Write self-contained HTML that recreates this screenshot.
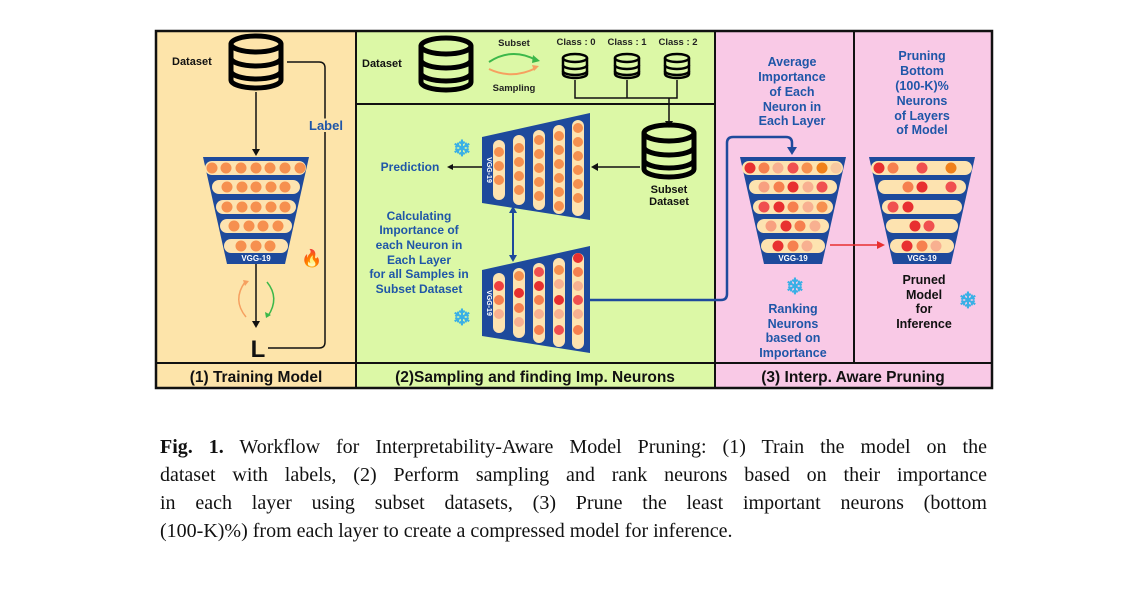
<!DOCTYPE html>
<html><head><meta charset="utf-8"><style>
body{margin:0;background:#fff;width:1147px;height:595px;overflow:hidden;position:relative}
svg{position:absolute;left:0;top:0}
.cap{position:absolute;left:160px;width:827px;font-family:"Liberation Serif",serif;font-size:20px;color:#111;text-align:justify;text-align-last:justify;white-space:nowrap;line-height:28px}
</style></head><body>
<svg width="1147" height="400" viewBox="0 0 1147 400" font-family="Liberation Sans, sans-serif" font-weight="bold">
<defs>
<g id="cyl"><path d="M-25,-18 v36 a25,8 0 0 0 50,0 v-36" fill="none" stroke="#000" stroke-width="5"/><ellipse cx="0" cy="-18" rx="25" ry="8" fill="none" stroke="#000" stroke-width="5"/><path d="M-25,-4 a25,8 0 0 0 50,0 M-25,9 a25,8 0 0 0 50,0" fill="none" stroke="#000" stroke-width="5"/></g>
<g id="cyls"><path d="M-12,-8 v16 a12,4 0 0 0 24,0 v-16" fill="none" stroke="#000" stroke-width="2.5"/><ellipse cx="0" cy="-8" rx="12" ry="4" fill="none" stroke="#000" stroke-width="2.5"/><path d="M-12,-1 a12,4 0 0 0 24,0 M-12,5 a12,4 0 0 0 24,0" fill="none" stroke="#000" stroke-width="2.5"/></g>
<g id="fun"><polygon points="203,157 309,157 285,264 227,264" fill="#1e4a9c"/>
<rect x="205" y="161" width="101" height="14" rx="7" fill="#fde3b0"/>
<rect x="212" y="180" width="88" height="14" rx="7" fill="#fde3b0"/>
<rect x="216" y="200" width="80" height="14" rx="7" fill="#fde3b0"/>
<rect x="220" y="219" width="72" height="14" rx="7" fill="#fde3b0"/>
<rect x="224" y="239" width="64" height="14" rx="7" fill="#fde3b0"/>
<text x="256" y="261" fill="#fff" font-size="8" text-anchor="middle">VGG-19</text></g>
<g id="hfun"><polygon points="482,137 590,113 590,220 482,203" fill="#1e4a9c"/>
<rect x="493" y="140" width="12" height="60" rx="6" fill="#fde3b0"/>
<rect x="513" y="135" width="12" height="70" rx="6" fill="#fde3b0"/>
<rect x="533" y="130" width="12" height="80" rx="6" fill="#fde3b0"/>
<rect x="553" y="125" width="12" height="89" rx="6" fill="#fde3b0"/>
<rect x="572" y="120" width="12" height="96" rx="6" fill="#fde3b0"/>
<text x="0" y="0" fill="#fff" font-size="7" text-anchor="middle" transform="translate(487,170) rotate(90)">VGG-19</text></g>
</defs>
<rect x="156" y="31" width="200" height="332" fill="#fde4aa"/>
<rect x="356" y="31" width="359" height="332" fill="#dcf8a6"/>
<rect x="715" y="31" width="277" height="332" fill="#f9c9e6"/>
<rect x="156" y="363" width="200" height="25" fill="#fde4aa"/>
<rect x="356" y="363" width="359" height="25" fill="#dcf8a6"/>
<rect x="715" y="363" width="277" height="25" fill="#f9c9e6"/>
<rect x="156" y="31" width="836" height="357" fill="none" stroke="#111" stroke-width="2.5"/>
<path d="M356,31 V388 M715,31 V388 M156,363 H992 M356,104 H715 M854,31 V363" stroke="#111" stroke-width="2" fill="none"/>
<g font-size="15.5" fill="#111" text-anchor="middle"><text x="256" y="382">(1) Training Model</text><text x="535" y="382">(2)Sampling and finding Imp. Neurons</text><text x="853" y="382">(3) Interp. Aware Pruning</text></g>
<use href="#cyl" x="256" y="62"/>
<text x="172" y="65" font-size="11" fill="#111">Dataset</text>
<path d="M256,92 V150" stroke="#111" stroke-width="1.5"/><polygon points="252,149 260,149 256,156" fill="#111"/>
<path d="M287,62 H319 Q325,62 325,68 V342 Q325,348 319,348 H268" stroke="#111" stroke-width="1.5" fill="none"/>
<text x="326" y="130" font-size="13" fill="#1f56a8" text-anchor="middle" style="paint-order:stroke" stroke="#fde4aa" stroke-width="4">Label</text>
<use href="#fun"/>
<g fill="#f6904f"><circle cx="212" cy="168" r="5.5"/><circle cx="226" cy="168" r="5.5"/><circle cx="241" cy="168" r="5.5"/><circle cx="256" cy="168" r="5.5"/><circle cx="270" cy="168" r="5.5"/><circle cx="285" cy="168" r="5.5"/><circle cx="300" cy="168" r="5.5"/>
<circle cx="227" cy="187" r="5.5"/><circle cx="242" cy="187" r="5.5"/><circle cx="256" cy="187" r="5.5"/><circle cx="271" cy="187" r="5.5"/><circle cx="285" cy="187" r="5.5"/>
<circle cx="227" cy="207" r="5.5"/><circle cx="242" cy="207" r="5.5"/><circle cx="256" cy="207" r="5.5"/><circle cx="271" cy="207" r="5.5"/><circle cx="285" cy="207" r="5.5"/>
<circle cx="234" cy="226" r="5.5"/><circle cx="249" cy="226" r="5.5"/><circle cx="263" cy="226" r="5.5"/><circle cx="278" cy="226" r="5.5"/>
<circle cx="241" cy="246" r="5.5"/><circle cx="256" cy="246" r="5.5"/><circle cx="270" cy="246" r="5.5"/></g>
<text x="301" y="264" font-size="17" fill="#f0601a">🔥</text>
<path d="M256,264 V322" stroke="#111" stroke-width="1.5"/><polygon points="252,321 260,321 256,328" fill="#111"/>
<path d="M246,317 Q232,300 245,282" stroke="#f6a060" stroke-width="1.5" fill="none"/><polygon points="243,280 249,281 245,286" fill="#f6a060"/>
<path d="M267,282 Q280,298 268,316" stroke="#3cb84a" stroke-width="1.5" fill="none"/><polygon points="266,318 265,312 271,315" fill="#3cb84a"/>
<text x="258" y="357" font-size="24" fill="#111" text-anchor="middle">L</text>
<text x="362" y="67" font-size="11" fill="#111">Dataset</text>
<use href="#cyl" x="446" y="64"/>
<text x="514" y="46" font-size="9.5" fill="#222" text-anchor="middle">Subset</text>
<text x="514" y="91" font-size="9.5" fill="#222" text-anchor="middle">Sampling</text>
<path d="M489,62 Q512,47 536,60" stroke="#3cb84a" stroke-width="2" fill="none"/><polygon points="533,55 540,61 532,63" fill="#3cb84a"/>
<path d="M489,69 Q512,80 536,68" stroke="#f6a060" stroke-width="2" fill="none"/><polygon points="532,65 539,66 534,71" fill="#f6a060"/>
<g font-size="9.5" fill="#222" text-anchor="middle"><text x="576" y="45">Class : 0</text><text x="627" y="45">Class : 1</text><text x="678" y="45">Class : 2</text></g>
<use href="#cyls" x="575" y="66"/><use href="#cyls" x="627" y="66"/><use href="#cyls" x="677" y="66"/>
<path d="M575,80 V98 H677 V80 M627,80 V98 M669,98 V122" stroke="#111" stroke-width="1.5" fill="none"/><polygon points="665,121 673,121 669,128" fill="#111"/>
<use href="#cyl" x="669" y="151"/>
<text x="669" y="193" font-size="11" fill="#111" text-anchor="middle">Subset</text><text x="669" y="205" font-size="11" fill="#111" text-anchor="middle">Dataset</text>
<path d="M640,167 H597" stroke="#111" stroke-width="1.5"/><polygon points="598,163 598,171 591,167" fill="#111"/>
<use href="#hfun"/>
<g fill="#f6904f"><circle cx="499" cy="152" r="5"/><circle cx="499" cy="166" r="5"/><circle cx="499" cy="180" r="5"/><circle cx="519" cy="148" r="5"/><circle cx="519" cy="162" r="5"/><circle cx="519" cy="176" r="5"/><circle cx="519" cy="190" r="5"/>
<circle cx="539" cy="140" r="5"/><circle cx="539" cy="154" r="5"/><circle cx="539" cy="168" r="5"/><circle cx="539" cy="182" r="5"/><circle cx="539" cy="196" r="5"/>
<circle cx="559" cy="136" r="5"/><circle cx="559" cy="150" r="5"/><circle cx="559" cy="164" r="5"/><circle cx="559" cy="178" r="5"/><circle cx="559" cy="192" r="5"/><circle cx="559" cy="206" r="5"/>
<circle cx="578" cy="128" r="5"/><circle cx="578" cy="142" r="5"/><circle cx="578" cy="156" r="5"/><circle cx="578" cy="170" r="5"/><circle cx="578" cy="184" r="5"/><circle cx="578" cy="198" r="5"/></g>
<use href="#hfun" y="133"/>
<g><circle cx="499" cy="286" r="5" fill="#f04040"/><circle cx="499" cy="300" r="5" fill="#f6804f"/><circle cx="499" cy="314" r="5" fill="#f8b090"/>
<circle cx="519" cy="276" r="5" fill="#f6904f"/><circle cx="519" cy="293" r="5" fill="#e83030"/><circle cx="519" cy="308" r="5" fill="#f6804f"/><circle cx="519" cy="322" r="5" fill="#f8b090"/>
<circle cx="539" cy="272" r="5" fill="#f05050"/><circle cx="539" cy="286" r="5" fill="#e83030"/><circle cx="539" cy="300" r="5" fill="#f6804f"/><circle cx="539" cy="314" r="5" fill="#f8b090"/><circle cx="539" cy="330" r="5" fill="#f6804f"/>
<circle cx="559" cy="270" r="5" fill="#f6904f"/><circle cx="559" cy="284" r="5" fill="#f8b090"/><circle cx="559" cy="300" r="5" fill="#e83030"/><circle cx="559" cy="314" r="5" fill="#f8b090"/><circle cx="559" cy="330" r="5" fill="#f05050"/>
<circle cx="578" cy="258" r="5" fill="#e83030"/><circle cx="578" cy="272" r="5" fill="#f6804f"/><circle cx="578" cy="286" r="5" fill="#f8b090"/><circle cx="578" cy="300" r="5" fill="#f05050"/><circle cx="578" cy="314" r="5" fill="#f8b090"/><circle cx="578" cy="330" r="5" fill="#f6804f"/></g>
<g font-size="12" fill="#1f56a8" text-anchor="middle"><text x="410" y="171">Prediction</text>
<text x="419" y="220">Calculating</text><text x="419" y="234">Importance of</text><text x="419" y="249">each Neuron in</text><text x="419" y="264">Each Layer</text><text x="419" y="278">for all Samples in</text><text x="419" y="293">Subset Dataset</text></g>
<path d="M482,167 H452" stroke="#111" stroke-width="1.5"/><polygon points="453,164 453,170 447,167" fill="#111"/>
<path d="M513,212 V256" stroke="#1e4a9c" stroke-width="2"/><polygon points="509,213 517,213 513,206" fill="#1e4a9c"/><polygon points="509,255 517,255 513,262" fill="#1e4a9c"/>
<g font-size="22" fill="#3ab0e6" text-anchor="middle"><text x="462" y="156">❄</text><text x="462" y="325">❄</text><text x="795" y="294">❄</text><text x="968" y="308">❄</text></g>
<path d="M590,300 H721 Q727,300 727,294 V143 Q727,137 733,137 H786 Q792,137 792,143 V148" stroke="#1e4a9c" stroke-width="2.5" fill="none"/><polygon points="787,147 797,147 792,155" fill="#1e4a9c"/>
<g font-size="12.5" fill="#1f56a8" text-anchor="middle"><text x="792" y="66">Average</text><text x="792" y="81">Importance</text><text x="792" y="96">of Each</text><text x="792" y="111">Neuron in</text><text x="792" y="125">Each Layer</text>
<text x="922" y="60">Pruning</text><text x="922" y="75">Bottom</text><text x="922" y="90">(100-K)%</text><text x="922" y="105">Neurons</text><text x="922" y="120">of Layers</text><text x="922" y="134">of Model</text>
<text x="793" y="313">Ranking</text><text x="793" y="328">Neurons</text><text x="793" y="342">based on</text><text x="793" y="357">Importance</text></g>
<g font-size="12.5" fill="#111" text-anchor="middle"><text x="924" y="284">Pruned</text><text x="924" y="299">Model</text><text x="924" y="313">for</text><text x="924" y="328">Inference</text></g>
<use href="#fun" x="537"/>
<g><circle cx="750" cy="168" r="5.5" fill="#e83030"/><circle cx="764" cy="168" r="5.5" fill="#f6804f"/><circle cx="778" cy="168" r="5.5" fill="#f8b090"/><circle cx="793" cy="168" r="5.5" fill="#f05050"/><circle cx="807" cy="168" r="5.5" fill="#f6904f"/><circle cx="822" cy="168" r="5.5" fill="#f0801a"/><circle cx="836" cy="168" r="5.5" fill="#f8c8a0"/>
<circle cx="764" cy="187" r="5.5" fill="#f8a080"/><circle cx="779" cy="187" r="5.5" fill="#f6804f"/><circle cx="793" cy="187" r="5.5" fill="#e83030"/><circle cx="808" cy="187" r="5.5" fill="#f8b090"/><circle cx="822" cy="187" r="5.5" fill="#f05050"/>
<circle cx="764" cy="207" r="5.5" fill="#f05050"/><circle cx="779" cy="207" r="5.5" fill="#e83030"/><circle cx="793" cy="207" r="5.5" fill="#f6804f"/><circle cx="808" cy="207" r="5.5" fill="#f8b090"/><circle cx="822" cy="207" r="5.5" fill="#f6904f"/>
<circle cx="771" cy="226" r="5.5" fill="#f8a080"/><circle cx="786" cy="226" r="5.5" fill="#e83030"/><circle cx="800" cy="226" r="5.5" fill="#f6804f"/><circle cx="815" cy="226" r="5.5" fill="#f8b090"/>
<circle cx="778" cy="246" r="5.5" fill="#e83030"/><circle cx="793" cy="246" r="5.5" fill="#f6804f"/><circle cx="807" cy="246" r="5.5" fill="#f8b090"/></g>
<use href="#fun" x="666"/>
<g><circle cx="879" cy="168" r="5.5" fill="#e83030"/><circle cx="893" cy="168" r="5.5" fill="#f6804f"/><circle cx="922" cy="168" r="5.5" fill="#f05050"/><circle cx="951" cy="168" r="5.5" fill="#f0801a"/>
<circle cx="908" cy="187" r="5.5" fill="#f6804f"/><circle cx="922" cy="187" r="5.5" fill="#e83030"/><circle cx="951" cy="187" r="5.5" fill="#f05050"/>
<circle cx="893" cy="207" r="5.5" fill="#f05050"/><circle cx="908" cy="207" r="5.5" fill="#e83030"/>
<circle cx="915" cy="226" r="5.5" fill="#e83030"/><circle cx="929" cy="226" r="5.5" fill="#f05050"/>
<circle cx="907" cy="246" r="5.5" fill="#e83030"/><circle cx="922" cy="246" r="5.5" fill="#f6804f"/><circle cx="936" cy="246" r="5.5" fill="#f8b090"/></g>
<path d="M830,245 H878" stroke="#e83030" stroke-width="1.5"/><polygon points="877,241 877,249 885,245" fill="#e83030"/>
</svg>
<div class="cap" style="top:433px"><b>Fig. 1.</b> Workflow for Interpretability-Aware Model Pruning: (1) Train the model on the</div>
<div class="cap" style="top:461px">dataset with labels, (2) Perform sampling and rank neurons based on their importance</div>
<div class="cap" style="top:489px">in each layer using subset datasets, (3) Prune the least important neurons (bottom</div>
<div class="cap" style="top:517px;text-align-last:left">(100-K)%) from each layer to create a compressed model for inference.</div>
</body></html>
